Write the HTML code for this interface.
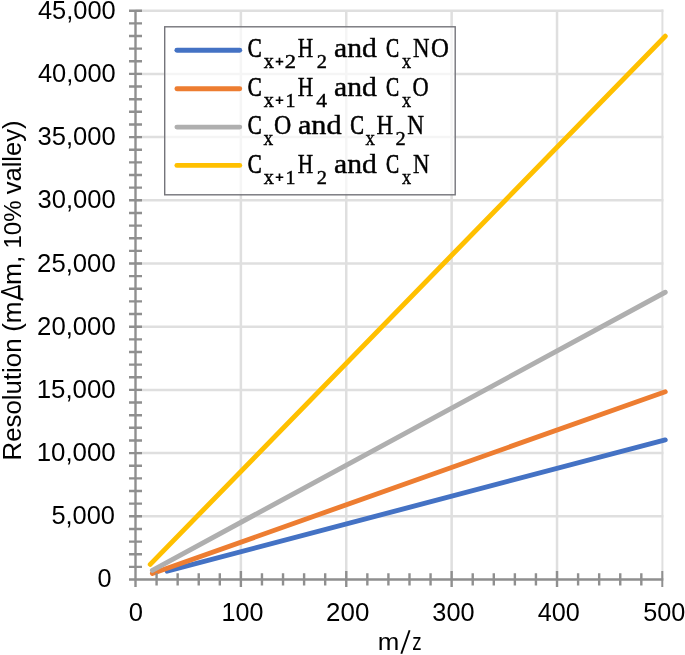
<!DOCTYPE html>
<html><head><meta charset="utf-8"><title>Resolution vs m/z</title>
<style>html,body{margin:0;padding:0;background:#fff;}svg{display:block;}text{font-family:"Liberation Sans",sans-serif;fill:#000;}.s text{font-family:"Liberation Serif",serif;}</style></head><body>
<svg width="685" height="655" viewBox="0 0 685 655">
<rect width="685" height="655" fill="#fff"/>
<path d="M135.50 516.30H663.40M135.50 453.10H663.40M135.50 389.90H663.40M135.50 326.70H663.40M135.50 263.50H663.40M135.50 200.30H663.40M135.50 137.10H663.40M135.50 73.90H663.40M135.50 10.70H663.40M240.88 579.50V9.50M346.26 579.50V9.50M451.64 579.50V9.50M557.02 579.50V9.50" stroke="#dfdfdf" stroke-width="2.5" fill="none"/>
<path d="M662.40 579.50V9.40" stroke="#dfdfdf" stroke-width="2.0" fill="none"/>
<line x1="167.11" y1="571.17" x2="665.25" y2="439.90" stroke="#4472c4" stroke-width="4.9" stroke-linecap="round"/>
<line x1="152.36" y1="573.52" x2="665.25" y2="391.74" stroke="#ed7d31" stroke-width="4.9" stroke-linecap="round"/>
<line x1="152.36" y1="570.36" x2="665.25" y2="292.23" stroke="#afafaf" stroke-width="4.9" stroke-linecap="round"/>
<line x1="150.25" y1="564.37" x2="665.25" y2="36.22" stroke="#ffc000" stroke-width="4.9" stroke-linecap="round"/>
<path d="M135.50 9.50V587.00M129.00 579.50H663.30M129.00 579.50H142.00M129.00 566.86H142.00M129.00 554.22H142.00M129.00 541.58H142.00M129.00 528.94H142.00M129.00 516.30H142.00M129.00 503.66H142.00M129.00 491.02H142.00M129.00 478.38H142.00M129.00 465.74H142.00M129.00 453.10H142.00M129.00 440.46H142.00M129.00 427.82H142.00M129.00 415.18H142.00M129.00 402.54H142.00M129.00 389.90H142.00M129.00 377.26H142.00M129.00 364.62H142.00M129.00 351.98H142.00M129.00 339.34H142.00M129.00 326.70H142.00M129.00 314.06H142.00M129.00 301.42H142.00M129.00 288.78H142.00M129.00 276.14H142.00M129.00 263.50H142.00M129.00 250.86H142.00M129.00 238.22H142.00M129.00 225.58H142.00M129.00 212.94H142.00M129.00 200.30H142.00M129.00 187.66H142.00M129.00 175.02H142.00M129.00 162.38H142.00M129.00 149.74H142.00M129.00 137.10H142.00M129.00 124.46H142.00M129.00 111.82H142.00M129.00 99.18H142.00M129.00 86.54H142.00M129.00 73.90H142.00M129.00 61.26H142.00M129.00 48.62H142.00M129.00 35.98H142.00M129.00 23.34H142.00M129.00 10.70H142.00M156.58 573.20V585.50M177.65 573.20V585.50M198.73 573.20V585.50M219.80 573.20V585.50M240.88 571.00V587.00M261.96 573.20V585.50M283.03 573.20V585.50M304.11 573.20V585.50M325.18 573.20V585.50M346.26 571.00V587.00M367.34 573.20V585.50M388.41 573.20V585.50M409.49 573.20V585.50M430.56 573.20V585.50M451.64 571.00V587.00M472.72 573.20V585.50M493.79 573.20V585.50M514.87 573.20V585.50M535.94 573.20V585.50M557.02 571.00V587.00M578.10 573.20V585.50M599.17 573.20V585.50M620.25 573.20V585.50M641.32 573.20V585.50" stroke="#8f8f8f" stroke-width="2.4" fill="none"/>
<path d="M662.30 571V587" stroke="#8f8f8f" stroke-width="2.0" fill="none"/>
<g style="filter:grayscale(1)"><text transform="translate(36.68 461.10) scale(1.0507 1.050)" font-size="24.6">10,000</text>
<text transform="translate(36.68 397.90) scale(1.0507 1.050)" font-size="24.6">15,000</text>
<text transform="translate(37.09 334.70) scale(1.0452 1.050)" font-size="24.6">20,000</text>
<text transform="translate(37.09 271.50) scale(1.0452 1.050)" font-size="24.6">25,000</text>
<text transform="translate(37.50 208.30) scale(1.0398 1.050)" font-size="24.6">30,000</text>
<text transform="translate(37.50 145.10) scale(1.0398 1.050)" font-size="24.6">35,000</text>
<text transform="translate(37.90 81.90) scale(1.0344 1.050)" font-size="24.6">40,000</text>
<text transform="translate(37.90 18.70) scale(1.0344 1.050)" font-size="24.6">45,000</text>
<text transform="translate(51.41 524.30) scale(1.0336 1.050)" font-size="24.6">5,000</text>
<text transform="translate(97.61 587.10) scale(1.0244 1.050)" font-size="24.6">0</text>
<text transform="translate(128.80 621.00) scale(1.0281 1.000)" font-size="24.9">0</text>
<text transform="translate(221.53 621.00) scale(1.0059 1.000)" font-size="24.9">100</text>
<text transform="translate(326.08 621.00) scale(1.0413 1.000)" font-size="24.9">200</text>
<text transform="translate(432.31 621.00) scale(1.0163 1.000)" font-size="24.9">300</text>
<text transform="translate(537.71 621.00) scale(1.0115 1.000)" font-size="24.9">400</text>
<text transform="translate(643.21 621.00) scale(1.0138 1.000)" font-size="24.9">500</text>
<text transform="translate(377.68 650.00) scale(1.0148 0.950)" font-size="25.5">m</text>
<text transform="translate(412.21 650.00) scale(0.7344 0.950)" font-size="25.5">z</text>
<text transform="translate(20.60 460.52) rotate(-90) scale(0.9936 1.000)" font-size="26.0">Resolution</text>
<text transform="translate(20.60 331.83) rotate(-90) scale(1.0053 1.000)" font-size="26.0">(m</text>
<text transform="translate(20.60 284.95) rotate(-90) scale(1.0152 1.000)" font-size="26.0">m,</text>
<text transform="translate(20.60 248.61) rotate(-90) scale(0.9267 0.950)" font-size="26.0">10%</text>
<text transform="translate(20.60 194.20) rotate(-90) scale(0.9799 1.000)" font-size="26.0">valley)</text></g>
<path d="M401.3 653.8L409.6 630.3" stroke="#000" stroke-width="1.9" fill="none"/>
<path d="M1.2 291.7L23.2 299.8" stroke="#000" stroke-width="2.2" fill="none"/><path d="M1.2 291.5L19.3 286.1" stroke="#000" stroke-width="1.6" fill="none"/><path d="M19.2 285.4V298.6" stroke="#000" stroke-width="2.4" fill="none"/>
<rect x="164.70" y="26.80" width="290.50" height="168.00" fill="#fff" fill-opacity="0.68" stroke="#74747a" stroke-width="1.4"/>
<line x1="176.9" y1="50.30" x2="239.75" y2="50.30" stroke="#4472c4" stroke-width="4.9" stroke-linecap="round"/>
<line x1="176.9" y1="88.70" x2="239.75" y2="88.70" stroke="#ed7d31" stroke-width="4.9" stroke-linecap="round"/>
<line x1="176.9" y1="127.10" x2="239.75" y2="127.10" stroke="#afafaf" stroke-width="4.9" stroke-linecap="round"/>
<line x1="176.9" y1="165.40" x2="239.75" y2="165.40" stroke="#ffc000" stroke-width="4.9" stroke-linecap="round"/>
<g class="s" style="filter:grayscale(1)" stroke="#000" stroke-width="0.42"><text transform="translate(247.75 57.00) scale(0.7594 1.000)" font-size="27.5" stroke-width="0.75">C</text>
<text transform="translate(263.70 67.80) scale(0.9484 1.000)" font-size="21.3">x</text>
<text transform="translate(284.80 67.80) scale(1.1607 1.000)" font-size="19.4">2</text>
<text transform="translate(297.87 57.00) scale(0.7775 1.000)" font-size="27.5">H</text>
<text transform="translate(316.66 67.80) scale(1.0508 1.000)" font-size="19.4">2</text>
<text transform="translate(334.07 57.00) scale(1.0786 1.000)" font-size="27.5">and</text>
<text transform="translate(386.08 57.00) scale(0.7166 1.000)" font-size="27.5" stroke-width="0.75">C</text>
<text transform="translate(402.00 67.80) scale(0.8545 1.000)" font-size="21.3">x</text>
<text transform="translate(412.94 57.00) scale(0.8304 1.000)" font-size="27.5">N</text>
<text transform="translate(430.92 57.00) scale(0.9032 1.000)" font-size="27.5">O</text>
<text transform="translate(247.75 95.70) scale(0.7594 1.000)" font-size="27.5" stroke-width="0.75">C</text>
<text transform="translate(263.70 106.50) scale(0.9484 1.000)" font-size="21.3">x</text>
<text transform="translate(285.44 106.50) scale(1.0309 1.000)" font-size="19.4">1</text>
<text transform="translate(297.87 95.70) scale(0.7775 1.000)" font-size="27.5">H</text>
<text transform="translate(316.26 106.50) scale(1.1107 1.000)" font-size="19.4">4</text>
<text transform="translate(334.07 95.70) scale(1.0786 1.000)" font-size="27.5">and</text>
<text transform="translate(386.08 95.70) scale(0.7166 1.000)" font-size="27.5" stroke-width="0.75">C</text>
<text transform="translate(402.00 106.50) scale(0.8545 1.000)" font-size="21.3">x</text>
<text transform="translate(412.60 95.70) scale(0.8145 1.000)" font-size="27.5">O</text>
<text transform="translate(247.75 134.30) scale(0.7594 1.000)" font-size="27.5" stroke-width="0.75">C</text>
<text transform="translate(263.40 145.10) scale(0.9108 1.000)" font-size="21.3">x</text>
<text transform="translate(273.95 134.30) scale(0.8700 1.000)" font-size="27.5">O</text>
<text transform="translate(297.96 134.30) scale(1.0992 1.000)" font-size="27.5">and</text>
<text transform="translate(350.36 134.30) scale(0.7472 1.000)" font-size="27.5" stroke-width="0.75">C</text>
<text transform="translate(365.60 145.10) scale(0.8826 1.000)" font-size="21.3">x</text>
<text transform="translate(376.44 134.30) scale(0.8357 1.000)" font-size="27.5">H</text>
<text transform="translate(395.56 145.10) scale(1.0508 1.000)" font-size="19.4">2</text>
<text transform="translate(407.34 134.30) scale(0.8463 1.000)" font-size="27.5">N</text>
<text transform="translate(247.75 172.70) scale(0.7594 1.000)" font-size="27.5" stroke-width="0.75">C</text>
<text transform="translate(263.70 183.50) scale(0.9484 1.000)" font-size="21.3">x</text>
<text transform="translate(285.44 183.50) scale(1.0309 1.000)" font-size="19.4">1</text>
<text transform="translate(297.87 172.70) scale(0.7775 1.000)" font-size="27.5">H</text>
<text transform="translate(316.66 183.50) scale(1.0508 1.000)" font-size="19.4">2</text>
<text transform="translate(334.07 172.70) scale(1.0786 1.000)" font-size="27.5">and</text>
<text transform="translate(386.08 172.70) scale(0.7166 1.000)" font-size="27.5" stroke-width="0.75">C</text>
<text transform="translate(402.00 183.50) scale(0.8545 1.000)" font-size="21.3">x</text>
<text transform="translate(412.94 172.70) scale(0.8304 1.000)" font-size="27.5">N</text></g>
<path d="M275.70 61.55H283.30M279.50 57.75V65.35M275.70 100.25H283.30M279.50 96.45V104.05M275.70 177.25H283.30M279.50 173.45V181.05" stroke="#000" stroke-width="1.7" fill="none"/>
</svg></body></html>
